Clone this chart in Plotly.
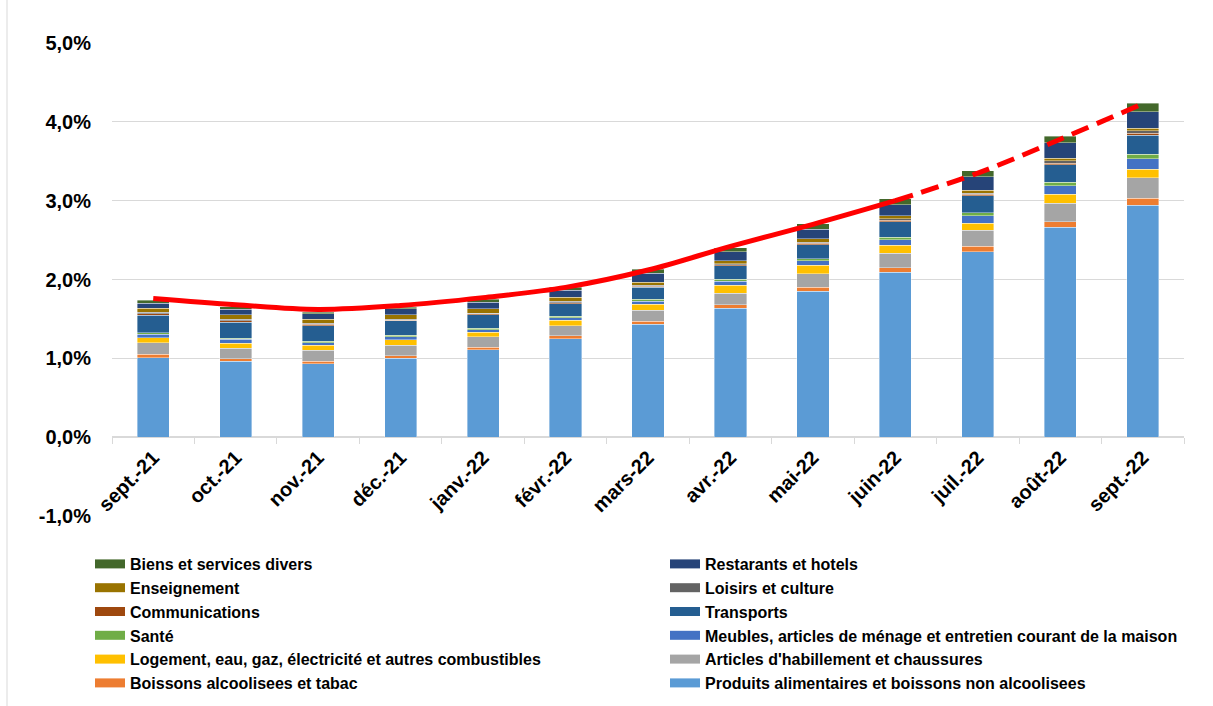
import plotly.graph_objects as go

months = ["sept.-21", "oct.-21", "nov.-21", "déc.-21", "janv.-22", "févr.-22", "mars-22",
          "avr.-22", "mai-22", "juin-22", "juil.-22", "août-22", "sept.-22"]

y_tick_values = [-1, 0, 1, 2, 3, 4, 5]
y_tick_labels = ["-1,0%", "0,0%", "1,0%", "2,0%", "3,0%", "4,0%", "5,0%"]

# contributions (points de %), stacked bottom -> top
produits = [1.007, 0.96, 0.93, 1.00, 1.108, 1.248, 1.43, 1.633, 1.853, 2.09, 2.352, 2.66, 2.94]
boissons = [0.047, 0.034, 0.034, 0.034, 0.034, 0.038, 0.038, 0.047, 0.05, 0.06, 0.068, 0.072, 0.089]
habillement = [0.144, 0.135, 0.14, 0.135, 0.13, 0.127, 0.14, 0.148, 0.17, 0.186, 0.203, 0.237, 0.262]
logement = [0.06, 0.06, 0.06, 0.068, 0.06, 0.072, 0.08, 0.10, 0.106, 0.10, 0.093, 0.11, 0.11]
meubles = [0.05, 0.05, 0.035, 0.038, 0.03, 0.03, 0.038, 0.05, 0.06, 0.068, 0.093, 0.11, 0.131]
sante = [0.017, 0.013, 0.015, 0.02, 0.02, 0.02, 0.025, 0.025, 0.025, 0.034, 0.038, 0.047, 0.055]
transports = [0.22, 0.207, 0.20, 0.18, 0.173, 0.157, 0.148, 0.17, 0.178, 0.195, 0.216, 0.22, 0.245]
communications = [0.02, 0.02, 0.017, 0.01, 0.01, 0.015, 0.013, 0.015, 0.015, 0.02, 0.017, 0.02, 0.025]
loisirs = [0.02, 0.02, 0.017, 0.01, 0.01, 0.015, 0.013, 0.015, 0.015, 0.02, 0.017, 0.03, 0.03]
enseignement = [0.05, 0.055, 0.05, 0.055, 0.055, 0.05, 0.042, 0.038, 0.042, 0.034, 0.038, 0.034, 0.03]
restaurants = [0.063, 0.068, 0.068, 0.076, 0.08, 0.09, 0.11, 0.114, 0.123, 0.144, 0.17, 0.195, 0.21]
divers = [0.04, 0.03, 0.02, 0.025, 0.04, 0.04, 0.05, 0.05, 0.068, 0.072, 0.072, 0.085, 0.106]

inflation = [1.76, 1.68, 1.62, 1.67, 1.77, 1.90, 2.12, 2.42, 2.70, 3.00, 3.35, 3.78, 4.23]
n_solid = 10  # solid line through juin-22, dashed afterwards

series = [
    ("Produits alimentaires et boissons non alcoolisees", produits, "#5B9BD5"),
    ("Boissons alcoolisees et tabac", boissons, "#ED7D31"),
    ("Articles d'habillement et chaussures", habillement, "#A5A5A5"),
    ("Logement, eau, gaz, électricité et autres combustibles", logement, "#FFC000"),
    ("Meubles, articles de ménage et entretien courant de la maison", meubles, "#4472C4"),
    ("Santé", sante, "#70AD47"),
    ("Transports", transports, "#255E91"),
    ("Communications", communications, "#9E480E"),
    ("Loisirs et culture", loisirs, "#636363"),
    ("Enseignement", enseignement, "#997300"),
    ("Restarants et hotels", restaurants, "#264478"),
    ("Biens et services divers", divers, "#43682B"),
]

fig = go.Figure()
for name, vals, col in series:
    fig.add_trace(go.Bar(
        x=months, y=vals, name=name, legendgroup=name, showlegend=False,
        marker=dict(color=col, line=dict(color="rgba(255,255,255,0.55)", width=0.7)),
    ))
# legend entries (wide swatches)
for name, vals, col in series:
    fig.add_trace(go.Scatter(
        x=[None], y=[None], mode="lines", name=name, legendgroup=name,
        line=dict(color=col, width=9),
    ))

fig.add_trace(go.Scatter(
    x=months[:n_solid], y=inflation[:n_solid], mode="lines", showlegend=False,
    line=dict(color="#FF0000", width=5, shape="spline", smoothing=1.0),
))
fig.add_trace(go.Scatter(
    x=months[n_solid - 1:], y=inflation[n_solid - 1:], mode="lines", showlegend=False,
    line=dict(color="#FF0000", width=5, dash="18px,9px", shape="spline", smoothing=1.0),
))

fig.update_layout(
    width=1213, height=706,
    margin=dict(l=112, r=29, t=43, b=190, autoexpand=False),
    paper_bgcolor="white", plot_bgcolor="white",
    barmode="stack", bargap=0.61,
    font=dict(family="Liberation Sans, Arial, sans-serif", color="black", size=16, weight="bold"),
    separators=", ",
    showlegend=True,
    legend=dict(
        orientation="h", traceorder="reversed",
        x=(90 - 112) / 1072, xanchor="left", y=(516 - 547) / 473, yanchor="top",
        entrywidth=530, entrywidthmode="pixels",
        font=dict(size=16, weight="bold"),
        bgcolor="rgba(0,0,0,0)",
    ),
    xaxis=dict(
        type="category", anchor="free", position=1 / 6,
        showline=True, linecolor="#D9D9D9", linewidth=1,
        ticks="outside", tickson="boundaries", ticklen=6, tickcolor="#D9D9D9",
        tickangle=-45, tickfont=dict(size=20, weight="bold"),
        showgrid=False,
    ),
    yaxis=dict(
        domain=[0, 1], range=[-1, 5],
        tickmode="array", tickvals=y_tick_values, ticktext=y_tick_labels,
        showgrid=True, gridcolor="#D9D9D9", gridwidth=1,
        zeroline=True, zerolinecolor="#D9D9D9",
        ticks="", ticklabelstandoff=20,
        tickfont=dict(size=20, weight="bold"),
    ),
    shapes=[dict(type="line", xref="paper", yref="paper",
                 x0=(7 - 112) / 1072, x1=(7 - 112) / 1072, y0=-190 / 473, y1=1 + 43 / 473,
                 line=dict(color="#D9D9D9", width=1))],
)

fig.write_html("out.html")
